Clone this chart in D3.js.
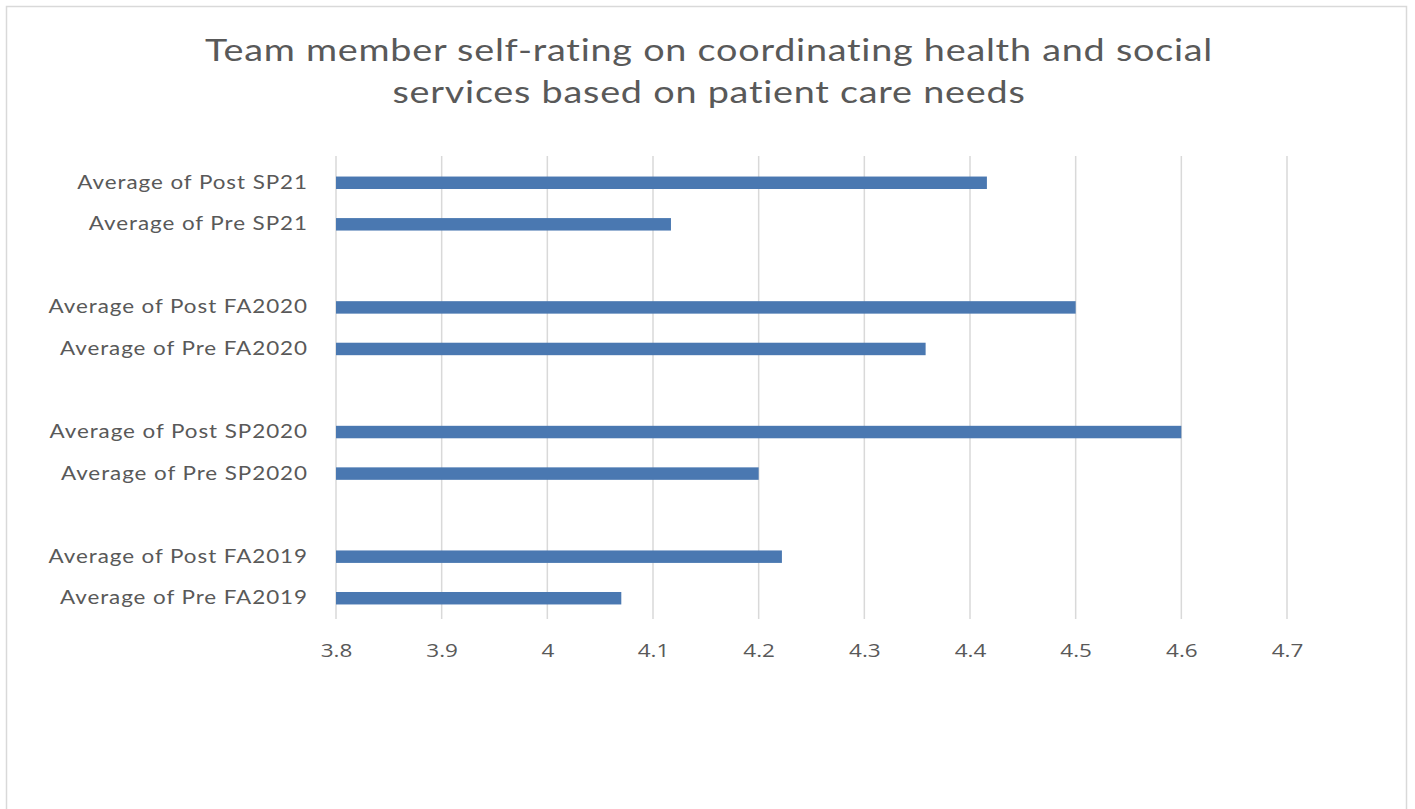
<!DOCTYPE html>
<html><head><meta charset="utf-8">
<script src="https://cdn.jsdelivr.net/npm/d3@7"></script>
<style>
html,body{margin:0;padding:0;background:#fff;}
svg{display:block;font-family:Lato,"Open Sans",sans-serif;}
</style></head>
<body>
<svg id="chart" width="1415" height="809"></svg>
<script>
const titleLines = ["Team member self-rating on coordinating health and social", "services based on patient care needs"];
const categories = ["Average of Post SP21","Average of Pre SP21","gap1","Average of Post FA2020","Average of Pre FA2020","gap2","Average of Post SP2020","Average of Pre SP2020","gap3","Average of Post FA2019","Average of Pre FA2019"];
const values = [4.416, 4.117, null, 4.5, 4.358, null, 4.6, 4.2, null, 4.222, 4.07];
const xTicks = [3.8,3.9,4.0,4.1,4.2,4.3,4.4,4.5,4.6,4.7];

const svg = d3.select("#chart");
const W = 1415, H = 809;
// border
svg.append("rect").attr("x",6.5).attr("y",6.5).attr("width",1400).attr("height",H).attr("fill","#fff").attr("stroke","#d9d9d9").attr("stroke-width",1.5);

const x = d3.scaleLinear().domain([3.8,4.7]).range([336,1287]);
const y = d3.scaleBand().domain(categories).range([162,619]).paddingInner(0.7).paddingOuter(0.35);

// gridlines
svg.append("g").selectAll("line").data(xTicks).join("line")
  .attr("x1",d=>x(d)).attr("x2",d=>x(d)).attr("y1",156).attr("y2",619)
  .attr("stroke","#d9d9d9").attr("stroke-width",1.5);

// bars
const data = categories.map((c,i)=>({c, v: values[i]})).filter(d=>d.v!=null);
svg.append("g").selectAll("rect").data(data).join("rect")
  .attr("x",x(3.8)).attr("y",d=>y(d.c)).attr("width",d=>x(d.v)-x(3.8)).attr("height",y.bandwidth())
  .attr("fill","#4a78b1");

// x axis tick labels
const xAxis = d3.axisBottom(x).tickValues(xTicks).tickSize(0).tickPadding(0).tickFormat(d=>String(+d.toFixed(1)));
const gx = svg.append("g").attr("transform","translate(0,644)").call(xAxis);
gx.select(".domain").remove();
gx.selectAll("text").attr("fill","#595959").attr("font-size",18).attr("dy","0.71em")
  .attr("font-family","'Open Sans',sans-serif").attr("transform","scale(1.25,1)");

// y labels
const yAxis = d3.axisLeft(y).tickSize(0).tickPadding(0).tickFormat(d=>d.startsWith("gap")?"":d);
const gy = svg.append("g").attr("transform","translate(308,0)").call(yAxis);
gy.select(".domain").remove();
gy.selectAll("text").attr("fill","#595959").attr("font-size",19).attr("font-family","Lato,sans-serif")
  .attr("letter-spacing","0.8px").attr("transform","scale(1.18,1)");

// title
svg.append("g").attr("transform","translate(709,0)").selectAll("text").data(titleLines).join("text")
  .attr("x",0).attr("y",(d,i)=>61+i*42)
  .attr("text-anchor","middle").attr("fill","#595959").attr("font-size",30)
  .attr("font-family","Lato,sans-serif").attr("letter-spacing","0.6px")
  .attr("transform","scale(1.26,1)")
  .text(d=>d);
</script>
</body></html>
